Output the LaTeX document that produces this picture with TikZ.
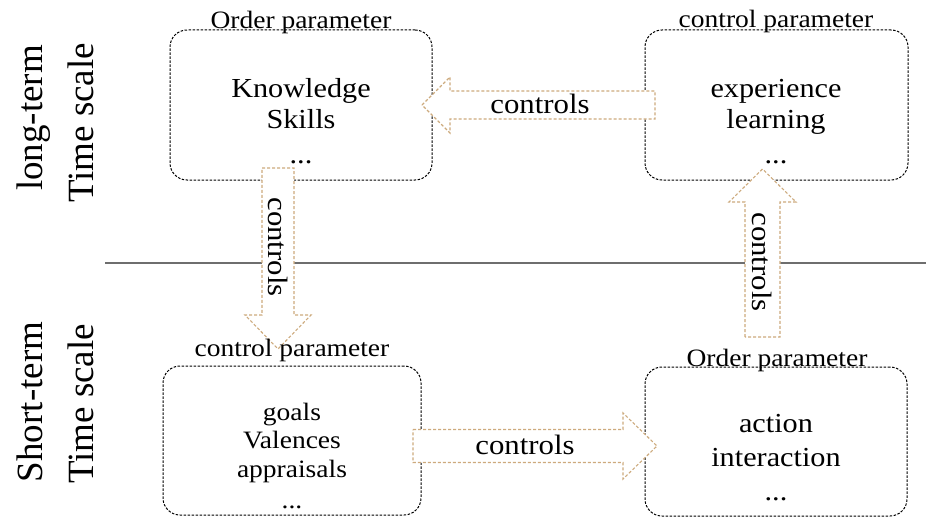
\documentclass[tikz,border=0pt]{standalone}
\usepackage{fontspec}
\setmainfont{Liberation Serif}
\newfontfamily\bxf[FakeStretch=1.1]{Liberation Serif}
\definecolor{arrowtan}{RGB}{205,170,125}
\definecolor{sepgray}{RGB}{110,110,110}
\begin{document}
\begin{tikzpicture}[x=1pt,y=-1pt,
  box/.style={draw=black, dash pattern=on 2.5pt off 1.5pt, line width=1pt, rounded corners=17pt, inner sep=0pt},
  barrow/.style={draw=arrowtan, fill=white, line width=1.1pt, dash pattern=on 3pt off 2pt, line join=miter},
  ttl/.style={font=\bxf\fontsize{25}{30}\selectfont, anchor=base, inner sep=0pt},
  txt/.style={font=\bxf\fontsize{27.5}{32}\selectfont, anchor=base, inner sep=0pt},
  txts/.style={font=\bxf\fontsize{25}{30}\selectfont, anchor=base, inner sep=0pt},
  atxt/.style={font=\bxf\fontsize{28}{32}\selectfont, inner sep=0pt},
  side/.style={font=\fontsize{37}{40}\selectfont, anchor=base, inner sep=0pt, rotate=90}]
\useasboundingbox (0,0) rectangle (926,519);

% separator line
\coordinate (sepL) at (105,263);
\coordinate (sepR) at (926,263);
\draw[sepgray, line width=1.5pt] (sepL) -- (sepR);

% side labels
\node[side] (lt) at (42,118) {long-term};
\node[side] (ts1) at (93,123) {Time scale};
\node[side] (st) at (42,402) {Short-term};
\node[side] (ts2) at (93,404) {Time scale};

% boxes
\node[box, minimum width=262pt, minimum height=150pt] (tl) at (301,105) {};
\node[box, minimum width=263pt, minimum height=150pt] (tr) at (776.5,105) {};
\node[box, minimum width=258pt, minimum height=149pt] (bl) at (292,440.5) {};
\node[box, minimum width=262pt, minimum height=149pt] (br) at (776,441.5) {};

% block arrows (connectors)
% TR -> TL
\draw[barrow] (422,105) -- (450,77) -- (450,91) -- (655,91) -- (655,119) -- (450,119) -- (450,133) -- cycle;
\node[atxt, anchor=base] (c1) at (540,113) {controls};
% TL -> BL
\draw[barrow] (262,168) -- (294,168) -- (294,315) -- (311,315) -- (278,349) -- (245,315) -- (262,315) -- cycle;
\node[atxt, rotate=-90] (c2) at (278,247) {controls};
% BL -> BR
\draw[barrow] (413,429.5) -- (623,429.5) -- (623,413) -- (657,446) -- (623,479) -- (623,462.5) -- (413,462.5) -- cycle;
\node[atxt, anchor=base] (c3) at (525,454) {controls};
% BR -> TR
\draw[barrow] (745,337) -- (745,202) -- (729,202) -- (762.5,169) -- (796,202) -- (780,202) -- (780,337) -- cycle;
\node[atxt, rotate=-90] (c4) at (762.5,262) {controls};

% titles
\node[ttl] (tlh) at (301,29) {Order parameter};
\node[ttl] (trh) at (776,28) {control parameter};
\node[ttl] (blh) at (292,356) {control parameter};
\node[ttl] (brh) at (777,366) {Order parameter};

% box contents
\node[txt] (tl1) at (301,97) {Knowledge};
\node[txt] (tl2) at (301,128) {Skills};
\node[txt] (tl3) at (301,163) {...};

\node[txt] (tr1) at (776,97) {experience};
\node[txt] (tr2) at (776,128) {learning};
\node[txt] (tr3) at (776,163) {...};

\node[txts] (bl1) at (292,420) {goals};
\node[txts] (bl2) at (292,448) {Valences};
\node[txts] (bl3) at (292,477) {appraisals};
\node[txts] (bl4) at (292,508) {...};

\node[txt] (br1) at (776,432) {action};
\node[txt] (br2) at (776,466) {interaction};
\node[txt] (br3) at (776,500) {...};
\end{tikzpicture}
\end{document}
